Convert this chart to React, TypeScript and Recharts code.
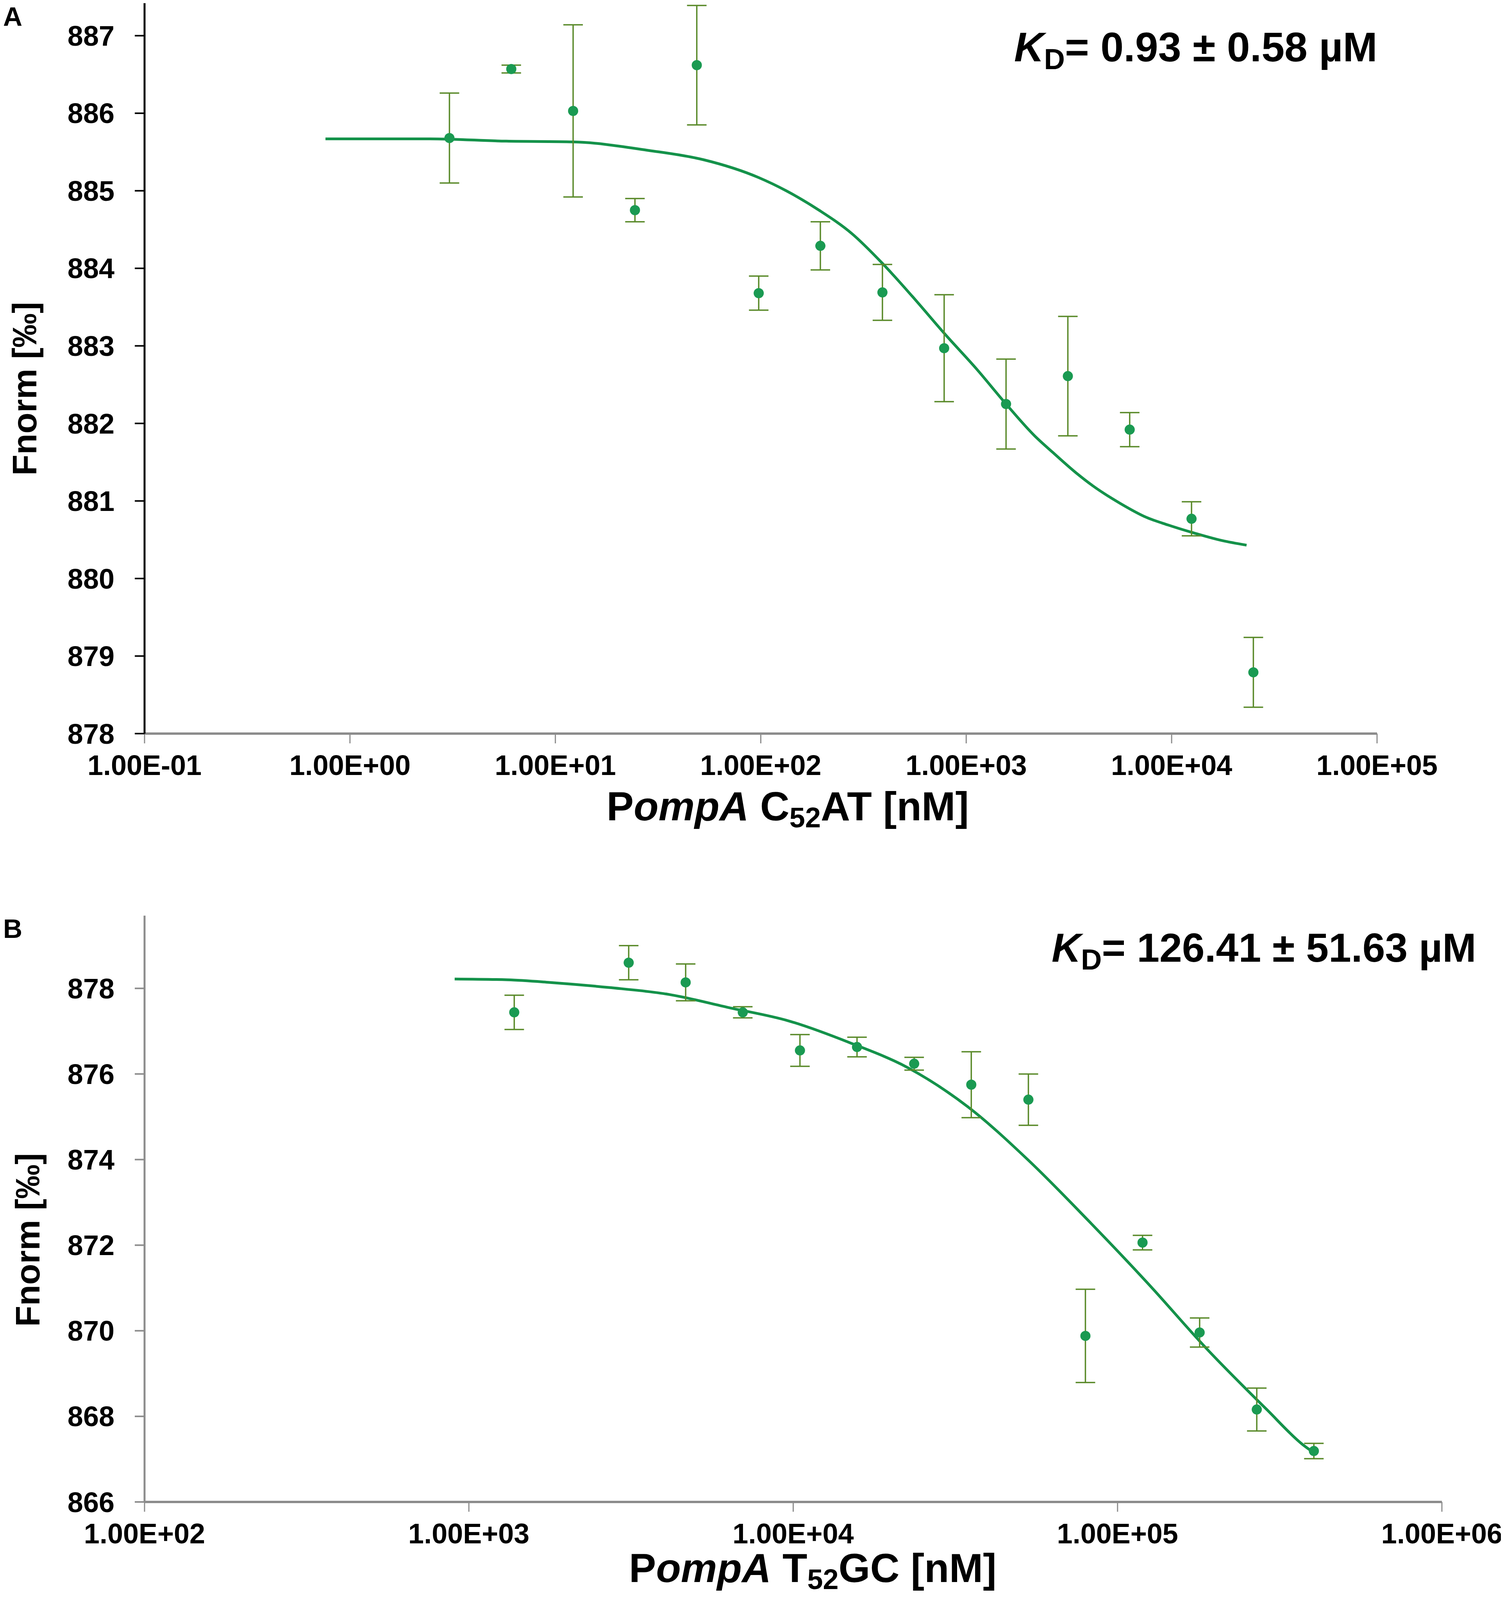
import React from 'react'
import { ComposedChart, Line, Scatter, ErrorBar, XAxis, YAxis, Label } from 'recharts'

// Panel A: PompA C52AT titration (nM), twofold dilution series
const concA = [3.05, 6.1, 12.2, 24.4, 48.8, 97.7, 195, 391, 781, 1563, 3125, 6250, 12500, 25000]
const fnormA = [885.68, 886.57, 886.03, 884.75, 886.62, 883.68, 884.29, 883.69, 882.97, 882.25, 882.61, 881.92, 880.77, 878.79]
const errA = [0.58, 0.05, 1.11, 0.15, 0.77, 0.22, 0.31, 0.36, 0.69, 0.58, 0.77, 0.22, 0.22, 0.45]

// fitted curve A
const fitConcA = [0.76, 2.44, 5.77, 12.2, 28.5, 52.7, 97.7, 133, 192, 277, 389, 546, 789, 1125, 1563, 2153, 2630, 3436, 4111, 5610, 7516, 9616, 13120, 17540, 23170]
const fitValA = [885.67, 885.67, 885.64, 885.63, 885.52, 885.4, 885.17, 885.0, 884.75, 884.45, 884.07, 883.64, 883.15, 882.7, 882.25, 881.84, 881.63, 881.36, 881.2, 880.97, 880.79, 880.69, 880.58, 880.49, 880.43]

// Panel B: PompA T52GC titration (nM), 1.5-fold dilution series
const concB = [1380, 3110, 4660, 6990, 10490, 15730, 23600, 35400, 53100, 79600, 119400, 179100, 268700, 403000]
const fnormB = [877.44, 878.6, 878.14, 877.44, 876.55, 876.63, 876.24, 875.75, 875.4, 869.88, 872.06, 869.96, 868.16, 867.19]
const errB = [0.4, 0.4, 0.43, 0.13, 0.37, 0.23, 0.15, 0.77, 0.6, 1.09, 0.17, 0.34, 0.5, 0.18]

// fitted curve B
const fitConcB = [904, 1315, 1770, 2704, 4130, 6339, 9683, 14830, 22650, 34590, 52840, 80910, 123600, 188800, 288400, 372400, 403000]
const fitValB = [878.22, 878.2, 878.14, 878.02, 877.86, 877.55, 877.24, 876.74, 876.14, 875.23, 874.0, 872.59, 871.12, 869.57, 868.16, 867.34, 867.15]

const ticksA = [0.1, 1, 10, 100, 1000, 10000, 100000]
const ticksB = [100, 1000, 10000, 100000, 1000000]
const yTicksA = [878, 879, 880, 881, 882, 883, 884, 885, 886, 887]
const yTicksB = [866, 868, 870, 872, 874, 876, 878]

const PT = '#1a9a52'
const CURVE = '#14924a'
const ERR = '#5a8a2a'
const FONT = '"Liberation Sans", Arial, sans-serif'

const W = 3850
const H = 4704

const pointsA = concA.map((x, i) => ({ x, y: fnormA[i], err: errA[i] }))
const pointsB = concB.map((x, i) => ({ x, y: fnormB[i], err: errB[i] }))
const fitA = fitConcA.map((x, i) => ({ x, y: fitValA[i] }))
const fitB = fitConcB.map((x, i) => ({ x, y: fitValB[i] }))

const sci = (v: number) => {
  const e = Math.round(Math.log10(v))
  return `1.00E${e < 0 ? '-' : '+'}${String(Math.abs(e)).padStart(2, '0')}`
}

const tickStyle = { fill: '#000', fontSize: 72, fontWeight: 700, fontFamily: FONT }

const dot = (p: any) => <circle cx={p.cx} cy={p.cy} r={13} fill={PT} />

function xTitle(letter: string, rest: string, dx: number, dy: number) {
  return (props: any) => {
    const vb = props.viewBox
    const cx = vb.x + vb.width / 2 + dx
    return (
      <text x={cx} y={vb.y + dy} textAnchor="middle" fontSize={104} fontWeight={700} fontFamily={FONT} fill="#000">
        <tspan>P</tspan>
        <tspan fontStyle="italic">ompA</tspan>
        <tspan>{' ' + letter}</tspan>
        <tspan fontSize={72} dy={18}>52</tspan>
        <tspan dy={-18}>{rest}</tspan>
      </text>
    )
  }
}

function yTitle(cx: number, cy: number) {
  return () => (
    <text
      x={cx}
      y={cy}
      transform={`rotate(-90, ${cx}, ${cy})`}
      textAnchor="middle"
      dominantBaseline="central"
      fontSize={88}
      fontWeight={700}
      fontFamily={FONT}
      fill="#000"
    >
      Fnorm [‰]
    </text>
  )
}

function Panel(props: {
  height: number
  margin: any
  xHeight: number
  domainX: number[]
  ticksX: number[]
  domainY: number[]
  ticksY: number[]
  yColor: string
  points: any[]
  fit: any[]
  title: any
  ylabel: any
}) {
  return (
    <ComposedChart width={W} height={props.height} margin={props.margin}>
      <XAxis
        type="number"
        dataKey="x"
        scale="log"
        domain={props.domainX}
        ticks={props.ticksX}
        allowDataOverflow
        tickFormatter={sci}
        height={props.xHeight}
        tick={tickStyle}
        tickSize={25}
        tickMargin={30}
        axisLine={{ stroke: '#8c8c8c', strokeWidth: 6 }}
        tickLine={{ stroke: '#8c8c8c', strokeWidth: 3 }}
      >
        <Label content={props.title} />
      </XAxis>
      <YAxis
        type="number"
        dataKey="y"
        domain={props.domainY}
        ticks={props.ticksY}
        allowDataOverflow
        width={370}
        tick={tickStyle}
        tickSize={25}
        tickMargin={52}
        axisLine={{ stroke: props.yColor, strokeWidth: 5 }}
        tickLine={{ stroke: props.yColor, strokeWidth: 4 }}
      >
        <Label content={props.ylabel} />
      </YAxis>
      <Line
        data={props.fit}
        dataKey="y"
        type="monotone"
        stroke={CURVE}
        strokeWidth={7}
        dot={false}
        isAnimationActive={false}
      />
      <Scatter data={props.points} dataKey="y" fill={PT} shape={dot} isAnimationActive={false}>
        <ErrorBar dataKey="err" direction="y" width={25} stroke={ERR} strokeWidth={3.5} />
      </Scatter>
    </ComposedChart>
  )
}

export default function App() {
  // the photographed viewport can be shorter than the nominal page; fit the figure into it
  const vh = typeof window !== 'undefined' && window.innerHeight ? window.innerHeight : H
  const k = Math.min(1, vh / H)
  const s = (v: number) => Math.round(v * k)

  return (
    <div style={{ position: 'relative', margin: -8, width: W, height: s(H), background: '#fff', overflow: 'hidden' }}>
      <div style={{ position: 'absolute', left: 0, top: 0 }}>
        <Panel
          height={s(2500)}
          margin={{ top: s(9), right: 325, bottom: s(50), left: 0 }}
          xHeight={s(293)}
          domainX={[0.1, 100000]}
          ticksX={ticksA}
          domainY={[878, 887.42]}
          ticksY={yTicksA}
          yColor="#000"
          points={pointsA}
          fit={fitA}
          title={xTitle('C', 'AT [nM]', 69, s(255))}
          ylabel={yTitle(62, s(1143))}
        />
      </div>
      <div style={{ position: 'absolute', left: 0, top: s(2450) }}>
        <Panel
          height={s(2254)}
          margin={{ top: s(242), right: 159, bottom: 0, left: 0 }}
          xHeight={s(288)}
          domainX={[100, 1000000]}
          ticksX={ticksB}
          domainY={[866, 879.7]}
          ticksY={yTicksB}
          yColor="#8c8c8c"
          points={pointsB}
          fit={fitB}
          title={xTitle('T', 'GC [nM]', 50, s(236))}
          ylabel={yTitle(70, s(1195))}
        />
      </div>
      <svg width={W} height={s(H)} style={{ position: 'absolute', left: 0, top: 0, pointerEvents: 'none' }}>
        <g fontFamily={FONT} fontWeight={700} fill="#000">
          <text x={8} y={66} fontSize={68}>A</text>
          <text x={8} y={s(2757)} fontSize={68}>B</text>
          <text x={2596} y={s(180)} fontSize={106}>
            <tspan fontStyle="italic">K</tspan>
            <tspan fontSize={74} dy={20}>D</tspan>
            <tspan dy={-20}>= 0.93 ± 0.58 µM</tspan>
          </text>
          <text x={2692} y={s(2828)} fontSize={104}>
            <tspan fontStyle="italic">K</tspan>
            <tspan fontSize={74} dy={20}>D</tspan>
            <tspan dy={-20}>= 126.41 ± 51.63 µM</tspan>
          </text>
        </g>
      </svg>
    </div>
  )
}
